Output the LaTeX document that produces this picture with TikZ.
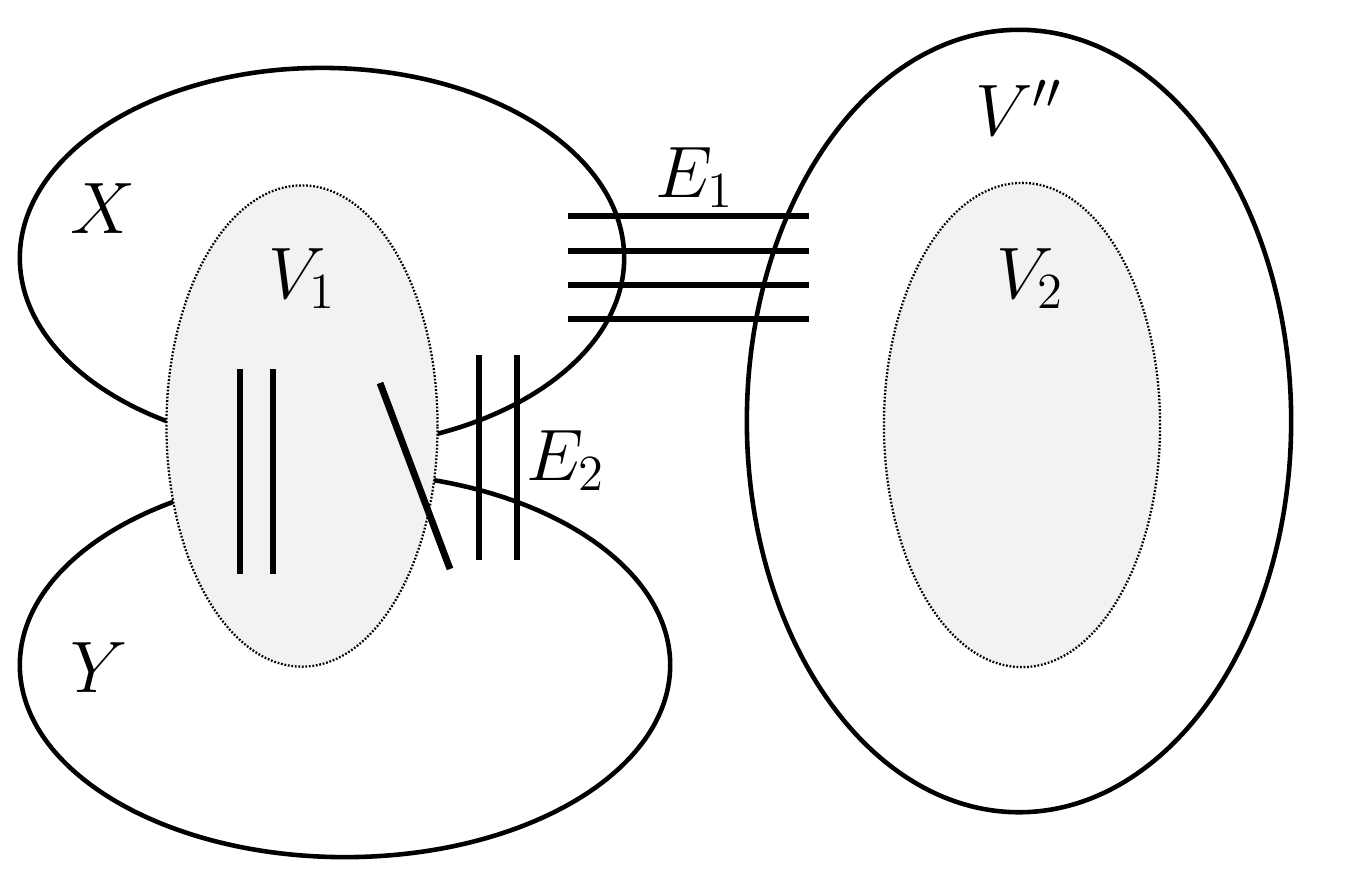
\documentclass[tikz,border=0pt]{standalone}
\usetikzlibrary{shapes.geometric}
\definecolor{setgray}{HTML}{F2F2F2}
\tikzset{
  outer/.style={draw=black, line width=1.3pt, ellipse, inner sep=0pt, outer sep=0pt},
  inner/.style={draw=black, fill=setgray, line width=0.65pt, dash pattern=on 0.5pt off 0.5pt, ellipse, inner sep=0pt, outer sep=0pt},
  edgeline/.style={line width=1.95pt, line cap=butt},
  lbl/.style={inner sep=0pt, outer sep=0pt, anchor=base west, font=\fontsize{21}{25}\selectfont}
}
\begin{document}
\begin{tikzpicture}[x=0.01cm, y=-0.01cm]
\useasboundingbox (0,0) rectangle (1358,887);
% outer sets
\node[outer, minimum width=6.04cm, minimum height=3.80cm] (X) at (322,258) {};
\node[outer, minimum width=6.50cm, minimum height=3.84cm] (Y) at (345,665) {};
\node[outer, minimum width=5.44cm, minimum height=7.82cm] (Vpp) at (1019,421) {};
% inner sets
\node[inner, minimum width=2.71cm, minimum height=4.81cm] (V1) at (302,426) {};
\node[inner, minimum width=2.76cm, minimum height=4.84cm] (V2) at (1022,425) {};
% E1 edges
\foreach \y [count=\i] in {216,251,285,319} {
  \coordinate (e1a\i) at (568,\y);
  \coordinate (e1b\i) at (809,\y);
  \draw[edgeline] (e1a\i) -- (e1b\i);
}
% E2 edges
\coordinate (e2a1) at (479,355); \coordinate (e2b1) at (479,560);
\coordinate (e2a2) at (517,355); \coordinate (e2b2) at (517,560);
\draw[edgeline] (e2a1) -- (e2b1);
\draw[edgeline] (e2a2) -- (e2b2);
% edges inside V1
\coordinate (i1a) at (240,369); \coordinate (i1b) at (240,574);
\coordinate (i2a) at (273,369); \coordinate (i2b) at (273,574);
\draw[edgeline] (i1a) -- (i1b);
\draw[edgeline] (i2a) -- (i2b);
\coordinate (d1) at (380,383); \coordinate (d2) at (450,569);
\draw[edgeline] (d1) -- (d2);
% labels
\node[lbl] (lX) at (70,233) {$X$};
\node[lbl] (lY) at (70,692) {$Y$};
\node[lbl] (lV1) at (268,298) {$V_1$};
\node[lbl] (lV2) at (996,298) {$V_2$};
\node[lbl] (lVpp) at (975,135) {$V''$};
\node[lbl] (lE1) at (655,197) {$E_1$};
\node[lbl] (lE2) at (526,480) {$E_2$};
\end{tikzpicture}
\end{document}
